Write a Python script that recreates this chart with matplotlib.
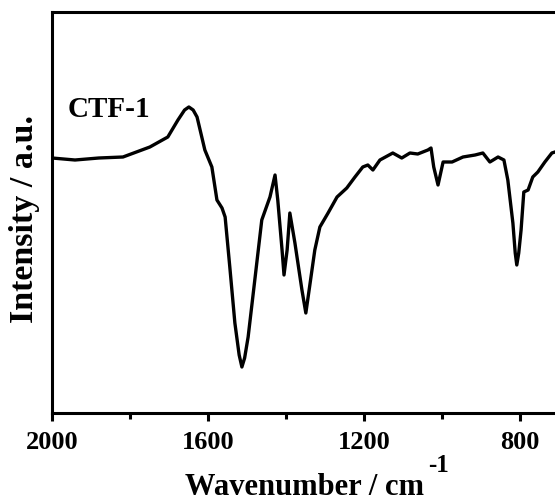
import matplotlib
matplotlib.use('Agg')
import matplotlib.pyplot as plt
from matplotlib.ticker import MultipleLocator

# FTIR spectrum of CTF-1 (wavenumber in cm^-1, intensity in arbitrary units)
wavenumber = [2000, 1941, 1880, 1818, 1749, 1703, 1677, 1660, 1649, 1638, 1628,
              1608, 1590, 1577, 1564, 1556, 1544, 1531, 1520, 1513, 1506, 1497,
              1479, 1462, 1441, 1428, 1421, 1410, 1405, 1397, 1390, 1377, 1359,
              1349, 1338, 1326, 1313, 1292, 1269, 1244, 1223, 1203, 1190, 1177,
              1159, 1126, 1103, 1082, 1062, 1036, 1028, 1021, 1010, 997, 974,
              946, 915, 895, 877, 856, 841, 831, 818, 812, 808, 803, 797, 790,
              779, 767, 754, 736, 718, 710]
intensity = [255, 253, 255, 256, 266, 276, 293, 303, 306, 303, 296,
             263, 246, 213, 205, 196, 146, 90, 58, 46, 55, 76,
             136, 193, 216, 238, 213, 163, 138, 163, 200, 170, 123,
             100, 130, 163, 186, 200, 216, 225, 236, 246, 248, 243,
             253, 260, 255, 260, 259, 263, 265, 246, 228, 251, 251,
             256, 258, 260, 251, 256, 253, 233, 190, 160, 148, 160, 183, 221,
             223, 236, 241, 251, 260, 261]

x_major = [2000, 1600, 1200, 800]
sample_label = 'CTF-1'

plt.rcParams['font.family'] = ['Liberation Serif', 'DejaVu Serif']
plt.rcParams['font.weight'] = 'bold'

W, H = 555, 504
fig = plt.figure(figsize=(W / 100, H / 100), dpi=100)
ax = fig.add_axes([52 / W, (H - 413) / H, 1 - 52 / W, (413 - 12) / H])

ax.plot(wavenumber, intensity, color='black', lw=2.4, solid_joinstyle='round')

ax.set_xlim(2000, 710)
ax.set_ylim(0, 401)
ax.set_xticks(x_major)
ax.xaxis.set_minor_locator(MultipleLocator(200))
ax.set_yticks([])

for side in ['left', 'bottom', 'top']:
    ax.spines[side].set_linewidth(2.2)
ax.spines['right'].set_visible(False)

ax.tick_params(axis='x', which='major', direction='out', length=6, width=2.2,
               labelsize=19, pad=7)
ax.tick_params(axis='x', which='minor', direction='out', length=4, width=2.2)
for lab in ax.get_xticklabels():
    lab.set_fontweight('bold')

fig.text(68 / W, (H - 117) / H, sample_label, fontsize=21, fontweight='bold',
         ha='left', va='baseline')

fig.text(25 / W, (H - 219) / H, 'Intensity / a.u.', fontsize=24.5,
         fontweight='bold', rotation=90, ha='center', va='center')

fig.text(185 / W, (H - 495) / H, 'Wavenumber / cm', fontsize=22,
         fontweight='bold', ha='left', va='baseline')
fig.text(428 / W, (H - 472) / H, '-1', fontsize=18, fontweight='bold',
         ha='left', va='baseline')

fig.savefig('out.png', dpi=100)
